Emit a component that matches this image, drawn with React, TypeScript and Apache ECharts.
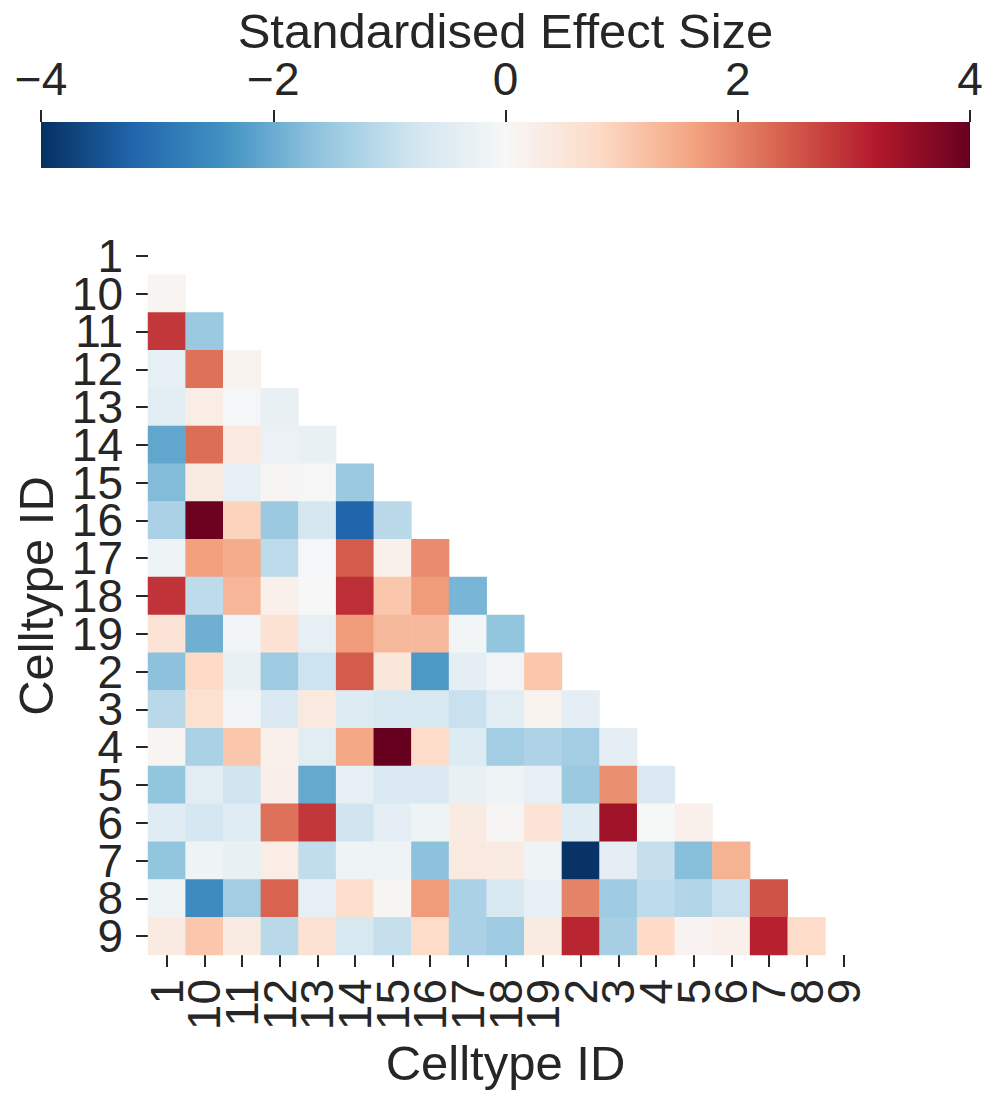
import React, { useEffect, useRef } from "react";
import * as echarts from "echarts";

const categories = ["1", "10", "11", "12", "13", "14", "15", "16", "17", "18", "19", "2", "3", "4", "5", "6", "7", "8", "9"];

// Lower-triangle rows: row k holds values for columns 0..k-1
const row1: number[] = [];
const row10 = [0.1];
const row11 = [2.85, -1.5];
const row12 = [-0.35, 2.2, 0.15];
const row13 = [-0.45, 0.3, -0.05, -0.3];
const row14 = [-2.1, 2.25, 0.4, -0.25, -0.3];
const row15 = [-1.75, 0.35, -0.35, 0.05, -0.03, -1.5];
const row16 = [-1.3, 3.95, 0.9, -1.5, -0.7, -3.2, -1.1];
const row17 = [-0.2, 1.65, 1.5, -1.05, -0.05, 2.45, 0.2, 1.9];
const row18 = [2.9, -1.05, 1.35, 0.2, 0.0, 2.95, 1.1, 1.7, -1.85];
const row19 = [0.55, -1.95, -0.15, 0.6, -0.35, 1.7, 1.3, 1.3, -0.1, -1.6];
const row2 = [-1.65, 0.8, -0.3, -1.45, -0.85, 2.45, 0.45, -2.3, -0.4, -0.15, 1.1];
const row3 = [-1.1, 0.65, -0.15, -0.6, 0.4, -0.55, -0.65, -0.65, -0.9, -0.45, 0.15, -0.4];
const row4 = [0.1, -1.3, 1.1, 0.2, -0.45, 1.55, 4.0, 0.75, -0.55, -1.4, -1.25, -1.4, -0.4];
const row5 = [-1.6, -0.45, -0.8, 0.25, -2.05, -0.35, -0.6, -0.6, -0.3, -0.2, -0.35, -1.5, 1.85, -0.6];
const row6 = [-0.5, -0.7, -0.5, 2.2, 2.85, -0.8, -0.4, -0.2, 0.35, 0.05, 0.55, -0.5, 3.4, -0.02, 0.2];
const row7 = [-1.6, -0.2, -0.3, 0.3, -1.0, -0.2, -0.2, -1.65, 0.4, 0.35, -0.2, -3.95, -0.4, -0.95, -1.7, 1.4];
const row8 = [-0.2, -2.55, -1.4, 2.35, -0.35, 0.7, 0.05, 1.7, -1.3, -0.65, -0.35, 2.0, -1.45, -1.05, -1.2, -0.9, 2.55];
const row9 = [0.35, 1.1, 0.35, -1.1, 0.6, -0.65, -0.95, 0.75, -1.3, -1.45, 0.35, 3.05, -1.35, 0.8, 0.12, 0.2, 3.1, 0.75];

const rows = [row1, row10, row11, row12, row13, row14, row15, row16, row17, row18, row19, row2, row3, row4, row5, row6, row7, row8, row9];

const colorbarTicks = [-4, -2, 0, 2, 4];

const rdbuR = ["#053061", "#2166ac", "#4393c3", "#92c5de", "#d1e5f0", "#f7f7f7", "#fddbc7", "#f4a582", "#d6604d", "#b2182b", "#67001f"];

const FONT = "'Liberation Sans', Arial, sans-serif";
const TXT = "#262626";

export default function App() {
  const ref = useRef<HTMLDivElement>(null);
  useEffect(() => {
    document.body.style.margin = "0";
    if (!ref.current) return;
    const chart = echarts.init(ref.current, null, { renderer: "svg" });

    const data: [number, number, number][] = [];
    rows.forEach((r, yi) => r.forEach((v, xi) => data.push([xi, yi, v])));

    const cb = { left: 41, top: 122, width: 929, height: 46 };

    chart.setOption({
      animation: false,
      textStyle: { fontFamily: FONT, color: TXT },
      grid: [
        { left: 148, top: 237, width: 715, height: 718 },
        { left: cb.left, top: cb.top, width: cb.width, height: cb.height },
      ],
      xAxis: [
        {
          type: "category",
          data: categories,
          gridIndex: 0,
          axisLine: { show: false },
          axisTick: { show: true, alignWithLabel: true, length: 12, lineStyle: { color: TXT, width: 2 } },
          axisLabel: { interval: 0, rotate: 90, fontSize: 46, color: TXT, margin: 24, fontFamily: FONT },
          splitLine: { show: false },
          name: "Celltype ID",
          nameLocation: "middle",
          nameGap: 62,
          nameTextStyle: { fontSize: 49, color: TXT, fontFamily: FONT },
        },
        {
          type: "value",
          gridIndex: 1,
          position: "top",
          min: -4,
          max: 4,
          interval: 2,
          axisLine: { show: false, onZero: false },
          splitLine: { show: false },
          axisTick: { show: true, length: 12, lineStyle: { color: TXT, width: 2 } },
          axisLabel: {
            fontSize: 46,
            color: TXT,
            margin: 20,
            fontFamily: FONT,
            formatter: (v: number) => (colorbarTicks.includes(v) ? String(v).replace("-", "\u2212") : ""),
          },
          name: "Standardised Effect Size",
          nameLocation: "middle",
          nameGap: 62,
          nameTextStyle: { fontSize: 49, color: TXT, fontFamily: FONT },
        },
      ],
      yAxis: [
        {
          type: "category",
          data: categories,
          inverse: true,
          gridIndex: 0,
          axisLine: { show: false },
          axisTick: { show: true, alignWithLabel: true, length: 12, lineStyle: { color: TXT, width: 2 } },
          axisLabel: { interval: 0, fontSize: 46, color: TXT, margin: 25, fontFamily: FONT },
          splitLine: { show: false },
          name: "Celltype ID",
          nameLocation: "middle",
          nameRotate: 90,
          nameGap: 85,
          nameTextStyle: { fontSize: 49, color: TXT, fontFamily: FONT },
        },
        { type: "value", gridIndex: 1, show: false, min: 0, max: 1 },
      ],
      visualMap: {
        type: "continuous",
        min: -4,
        max: 4,
        show: false,
        seriesIndex: 0,
        inRange: { color: rdbuR },
      },
      graphic: [
        {
          type: "rect",
          shape: { x: cb.left, y: cb.top, width: cb.width, height: cb.height },
          style: {
            fill: new echarts.graphic.LinearGradient(
              0, 0, 1, 0,
              rdbuR.map((c, i) => ({ offset: i / (rdbuR.length - 1), color: c }))
            ),
          },
          silent: true,
        },
      ],
      series: [
        {
          type: "heatmap",
          xAxisIndex: 0,
          yAxisIndex: 0,
          data,
          itemStyle: { borderWidth: 0 },
          emphasis: { disabled: true },
        },
      ],
    });
    return () => chart.dispose();
  }, []);
  return <div ref={ref} style={{ width: 999, height: 1095 }} />;
}
